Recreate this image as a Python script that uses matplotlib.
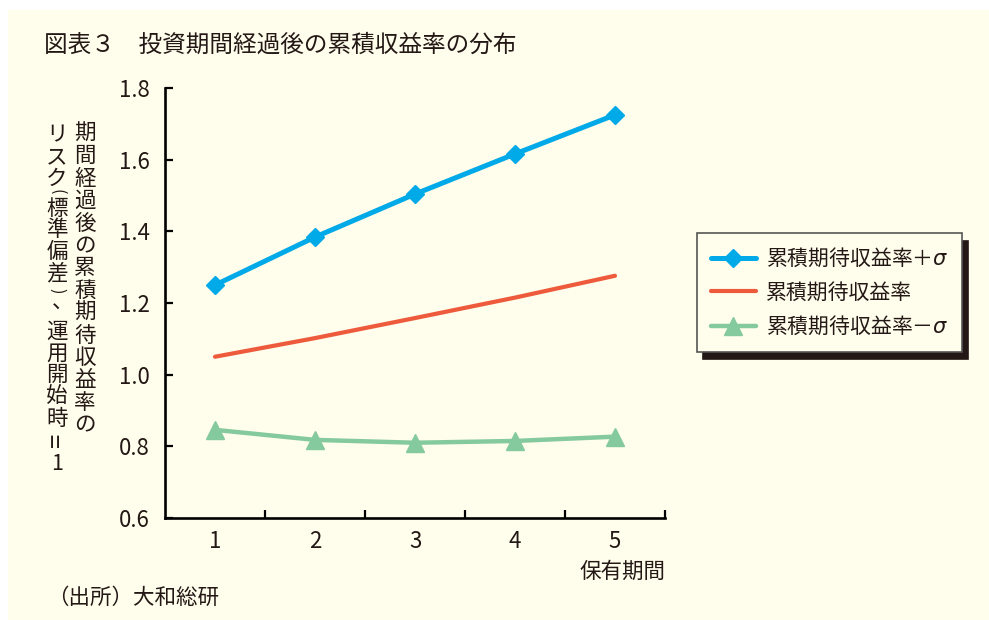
# 図表3 投資期間経過後の累積収益率の分布

import matplotlib
matplotlib.use("Agg")
import matplotlib.pyplot as plt
from matplotlib.patches import Rectangle

plt.rcParams['font.family'] = ['Noto Sans CJK JP', 'DejaVu Sans']
plt.rcParams['mathtext.fontset'] = 'custom'
plt.rcParams['mathtext.rm'] = 'Noto Sans CJK JP'
plt.rcParams['mathtext.it'] = 'DejaVu Sans:italic'

# data
years = [1, 2, 3, 4, 5]
plus_sigma = [1.25, 1.384, 1.504, 1.616, 1.725]
expected = [1.05, 1.102, 1.158, 1.215, 1.276]
minus_sigma = [0.846, 0.818, 0.810, 0.815, 0.827]

yticks = [0.6, 0.8, 1.0, 1.2, 1.4, 1.6, 1.8]
labels = ['累積期待収益率＋$\\sigma$', '累積期待収益率', '累積期待収益率－$\\sigma$']

title = '図表３　投資期間経過後の累積収益率の分布'
xlabel = '保有期間'
source = '（出所）大和総研'
ylab_col1 = '期間経過後の累積期待収益率の'
ylab_col2 = 'リスク(標準偏差)、運用開始時=1'

cream = '#FFFDEB'
txt = '#231815'
blue = '#00A9E8'
red = '#EE5A3C'
green = '#84CA9E'

W, H = 989, 620
fig = plt.figure(figsize=(W / 100, H / 100), dpi=100, facecolor='white')
fig.patches.append(Rectangle((8 / W, 0), 1, (H - 10) / H, transform=fig.transFigure,
                             facecolor=cream, edgecolor='none', zorder=-10))

ax = fig.add_axes([165 / W, (H - 518) / H, 500 / W, 430 / H])
ax.set_facecolor(cream)
ax.patch.set_alpha(0)

ax.plot(years, plus_sigma, color=blue, lw=3.6, marker='D', ms=9, label=labels[0],
        solid_capstyle='round')
ax.plot(years, expected, color=red, lw=3.0, label=labels[1], solid_capstyle='round')
ax.plot(years, minus_sigma, color=green, lw=3.2, marker='^', ms=13, label=labels[2],
        solid_capstyle='round')

ax.set_xlim(0.5, 5.5)
ax.set_ylim(0.6, 1.8)
ax.set_yticks(yticks)
ax.set_yticklabels([f'{v:.1f}' for v in yticks])
ax.set_xticks(years)
ax.set_xticks([1.5, 2.5, 3.5, 4.5, 5.5], minor=True)

for s in ['top', 'right']:
    ax.spines[s].set_visible(False)
for s in ['left', 'bottom']:
    ax.spines[s].set_linewidth(1.9)
    ax.spines[s].set_color('black')

ax.tick_params(axis='y', direction='in', length=6, width=1.6, pad=11,
               labelsize=16, labelcolor=txt)
ax.tick_params(axis='x', which='major', length=0, pad=9, labelsize=16, labelcolor=txt)
ax.tick_params(axis='x', which='minor', direction='in', length=6, width=1.6)

leg = ax.legend(loc='upper left', bbox_to_anchor=(697 / W, (H - 233) / H),
                bbox_transform=fig.transFigure, borderaxespad=0, fontsize=15,
                frameon=True, fancybox=False, handlelength=2.2, handletextpad=0.45,
                labelspacing=0.55, borderpad=0.65,
                shadow={'ox': 4.5, 'oy': -5.5, 'facecolor': txt, 'edgecolor': txt,
                        'alpha': 1})
leg.get_frame().set_facecolor(cream)
leg.get_frame().set_edgecolor('#555555')
leg.get_frame().set_linewidth(1.2)
for t in leg.get_texts():
    t.set_color(txt)

fig.text(44 / W, 1 - 45 / H, title, fontsize=17, color=txt, ha='left', va='center')
fig.text(665 / W, 1 - 572 / H, xlabel, fontsize=15.5, color=txt, ha='right', va='center')
fig.text(47 / W, 1 - 598 / H, source, fontsize=15.5, color=txt, ha='left', va='center')

# vertical y-axis label, one character at a time
fs = 15.5
base_off = 8
for i, ch in enumerate(ylab_col1):
    yc = 132 + i * 22.4
    fig.text(85 / W, 1 - (yc + base_off) / H, ch, fontsize=fs, color=txt,
             ha='center', va='baseline')

col2_y = [133, 155, 177, 192, 207, 228, 250, 271, 291, 306, 330, 352, 373, 395, 417, 440, 462]
for ch, yc in zip(ylab_col2, col2_y):
    if ch in '()':
        # brackets turned for vertical writing
        fig.text(57 / W, 1 - yc / H, ch, fontsize=fs - 4, color=txt,
                 ha='center', va='center', rotation=-90)
    elif ch == '=':
        fig.text(57 / W, 1 - yc / H, ch, fontsize=fs + 3, color=txt,
                 ha='center', va='center', rotation=90)
    elif ch == '、':
        fig.text(63 / W, 1 - (yc + 3) / H, ch, fontsize=fs, color=txt,
                 ha='center', va='baseline')
    else:
        fig.text(57 / W, 1 - (yc + base_off) / H, ch, fontsize=fs, color=txt,
                 ha='center', va='baseline')

fig.savefig('out.png', dpi=100, facecolor=fig.get_facecolor())
